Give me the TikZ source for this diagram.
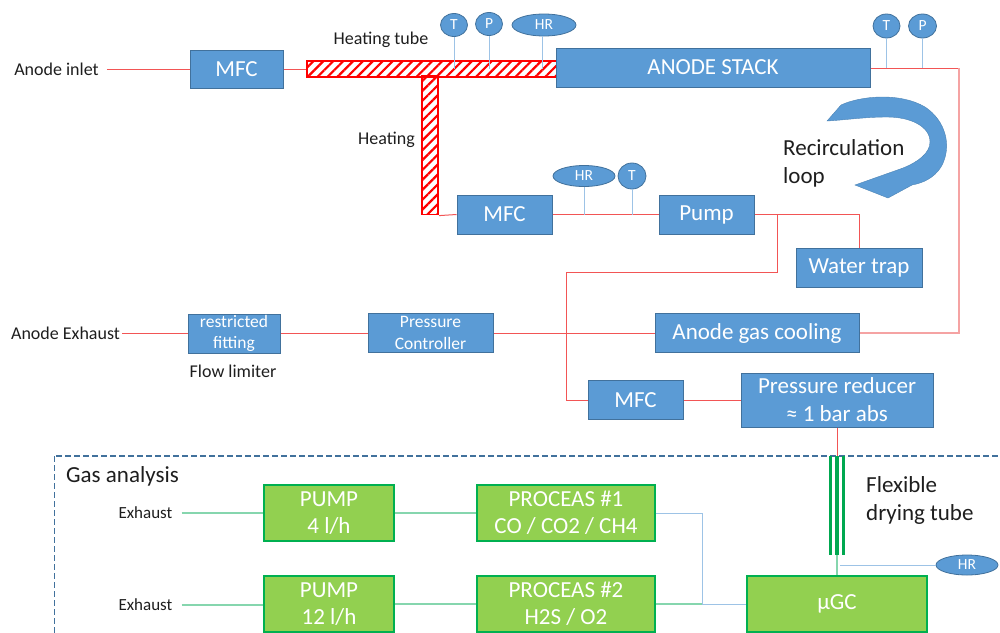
\documentclass[tikz,border=0pt]{standalone}
\usepackage{fontspec}
\setmainfont{Carlito}
\usetikzlibrary{shapes.geometric,patterns.meta}

\definecolor{boxblue}{HTML}{5B9BD5}
\definecolor{boxblueedge}{HTML}{41719C}
\definecolor{boxgreen}{HTML}{92D050}
\definecolor{boxgreenedge}{HTML}{00B050}
\definecolor{dryergreen}{HTML}{00A850}
\definecolor{pipered}{HTML}{F25555}
\definecolor{pipepink}{HTML}{F5A3A3}
\definecolor{sensorline}{HTML}{9DC3E6}
\definecolor{greenline}{HTML}{86D6AE}
\definecolor{labelgray}{HTML}{1E1E1E}

\newcommand\fsz[2]{\fontsize{#1}{#2}\selectfont}

\tikzset{
  unit/.style={draw=boxblueedge, fill=boxblue, line width=1pt, text=white,
    inner sep=0pt, align=center, font=\fsz{23}{28}},
  smallunit/.style={unit, font=\fsz{17.5}{21.5}},
  anaunit/.style={draw=boxgreenedge, fill=boxgreen, line width=1.3pt, text=white,
    inner sep=0pt, align=center, font=\fsz{23}{27}},
  sensor/.style={ellipse, draw=boxblueedge, fill=boxblue, line width=0.8pt,
    text=white, inner sep=0pt, font=\fsz{15.5}{18}},
  pipe/.style={draw=pipered, line width=1pt},
  pipelight/.style={draw=pipepink, line width=1.2pt},
  tap/.style={draw=sensorline, line width=1pt},
  gline/.style={draw=greenline, line width=1.3pt},
  lbl/.style={text=labelgray, inner sep=0pt, font=\fsz{18}{22}},
  biglbl/.style={text=labelgray, inner sep=0pt, font=\fsz{23}{28}},
  heated/.style={draw=red, line width=1.2pt, inner sep=0pt,
    pattern={Lines[angle=45,distance=7pt,line width=2.2pt]}, pattern color=red},
  frame/.style={draw=boxblueedge, line width=1.2pt, dash pattern=on 5.5pt off 3.5pt},
}

\begin{document}
\begin{tikzpicture}[x=1pt,y=-1pt]
\useasboundingbox (0,0) rectangle (1000,632);
\clip (0,0) rectangle (1000,632);

% ---------- gas analysis frame ----------
\draw[frame] (54.5,456) rectangle (1020,700);
\node[biglbl, anchor=base west] (gasLbl) at (66,482) {Gas analysis};

% ---------- heated lines ----------
\node[heated, minimum width=16pt, minimum height=139pt] (tubeV) at (430,145) {};
\node[heated, minimum width=250pt, minimum height=16pt] (tubeH) at (432,69) {};
\node[lbl] (heatTubeLbl) at (381,40) {Heating tube};
\node[lbl] (heatLbl) at (386.5,140) {Heating};

% ---------- main units ----------
\node[unit, minimum width=93pt, minimum height=38pt] (mfcA) at (236.5,69) {MFC};
\node[unit, minimum width=314pt, minimum height=39pt] (stack) at (713,67.5) {ANODE STACK};
\node[unit, minimum width=95pt, minimum height=39pt] (mfcB) at (504.5,214.5) {MFC};
\node[unit, minimum width=95pt, minimum height=39pt] (pump) at (706.5,214.5) {Pump};
\node[unit, minimum width=126pt, minimum height=39pt] (trap) at (859,267.5) {Water trap};
\node[smallunit, minimum width=92pt, minimum height=39pt] (restr) at (234,333.5) {restricted\\fitting};
\node[smallunit, minimum width=125pt, minimum height=39pt] (pctrl) at (430.5,333) {Pressure\\Controller};
\node[unit, minimum width=204pt, minimum height=39pt] (cool) at (757,333) {Anode gas cooling};
\node[unit, minimum width=95pt, minimum height=39pt] (mfcC) at (635.5,400) {MFC};
\node[unit, minimum width=192pt, minimum height=54pt] (reducer) at (837,400) {Pressure reducer\\≈ 1 bar abs};

% ---------- labels ----------
\node[lbl] (inletLbl) at (56.5,69) {Anode inlet};
\node[lbl] (exhLbl) at (65.5,333) {Anode Exhaust};
\node[lbl] (flowLbl) at (233,371) {Flow limiter};
\node[biglbl, anchor=base west] (recircA) at (783,155) {Recirculation};
\node[biglbl, anchor=base west] (recircB) at (783,183) {loop};
\node[biglbl, anchor=base west] (flexA) at (866,492) {Flexible};
\node[biglbl, anchor=base west] (flexB) at (866,520) {drying tube};

% ---------- sensors ----------
\node[sensor, minimum width=27pt, minimum height=23pt] (tA) at (454,25) {T};
\node[sensor, minimum width=27pt, minimum height=23pt] (pA) at (489,24) {P};
\node[sensor, minimum width=64pt, minimum height=22pt] (hrA) at (544,25) {HR};
\node[sensor, minimum width=27pt, minimum height=24pt] (tC) at (886.5,26) {T};
\node[sensor, minimum width=28pt, minimum height=24pt] (pC) at (922.5,26) {P};
\node[sensor, minimum width=62pt, minimum height=21pt] (hrB) at (584,176) {HR};
\node[sensor, minimum width=28pt, minimum height=26pt] (tB) at (632,176) {T};
\node[sensor, minimum width=62pt, minimum height=20pt] (hrC) at (967,565) {HR};

% ---------- coordinates for pipe corners ----------
\coordinate (loopNE) at (959,68);
\coordinate (brA) at (777,214.5);
\coordinate (brB) at (566,272);
\coordinate (dryTop) at (837,456);
\coordinate (dryBot) at (837,555);
\coordinate (hrTap) at (840,565);
\coordinate (joinTop) at (702,513);
\coordinate (joinBot) at (702,604);

% ---------- red gas lines ----------
\draw[pipe] ([xshift=8pt]inletLbl.east) -- (mfcA.west);
\draw[pipe] (mfcA.east) -- (tubeH.west);
\draw[pipe] (stack.east |- loopNE) -- (loopNE);
\draw[pipelight] (loopNE) |- (cool.east);
\draw[pipe] (cool.west) -- (pctrl.east);
\draw[pipe] (pctrl.west) -- (restr.east |- pctrl.west);
\draw[pipe] ([xshift=2pt]exhLbl.east) -- (restr.west |- exhLbl.east);
\draw[pipe] (tubeV.south east) -- (mfcB.west);
\draw[pipe] (mfcB.east) -- (pump.west);
\draw[pipe] (pump.east) -| (trap.north);
\draw[pipe] (brA) |- (brB) |- (mfcC.west);
\draw[pipe] (mfcC.east) -- (reducer.west |- mfcC.east);
\draw[pipe] (reducer.south) -- (dryTop);

% ---------- sensor taps ----------
\draw[tap] (tA.south) -- (tA.south |- tubeH.center);
\draw[tap] (pA.south) -- (pA.south |- tubeH.center);
\draw[tap] ([xshift=-2pt]hrA.south) -- ([xshift=-2pt]hrA.south |- tubeH.center);
\draw[tap] (tC.south) -- (tC.south |- loopNE);
\draw[tap] (pC.south) -- (pC.south |- loopNE);
\draw[tap] (hrB.south) -- (hrB.south |- mfcB.east);
\draw[tap] (tB.south) -- (tB.south |- mfcB.east);

% ---------- recirculation arrow ----------
\fill[boxblue, draw=boxblue!85!black, line width=0.4pt]
  (827,121) -- (841,105)
  .. controls (860,96) and (900,92) .. (925,107)
  .. controls (945,120) and (953,146) .. (941,167)
  .. controls (934,178) and (923,183) .. (912,185)
  -- (888,198) -- (855,185) -- (903,168)
  .. controls (918,162) and (930,153) .. (930,142)
  .. controls (930,126) and (910,117) .. (887,117)
  .. controls (865,117) and (845,120) .. cycle;

% ---------- gas analysis units ----------
\node[anaunit, minimum width=130pt, minimum height=56pt] (pumpA) at (329,513) {PUMP\\4 l/h};
\node[anaunit, minimum width=178pt, minimum height=56pt] (procA) at (566,513) {PROCEAS \#1\\CO / CO2 / CH4};
\node[anaunit, minimum width=130pt, minimum height=56pt] (pumpB) at (329,604) {PUMP\\12 l/h};
\node[anaunit, minimum width=178pt, minimum height=56pt] (procB) at (566,604) {PROCEAS \#2\\H2S / O2};
\node[anaunit, minimum width=180pt, minimum height=56pt] (gc) at (837,604) {µGC};
\node[lbl, font=\fsz{17}{20}] (exhA) at (145.5,513) {Exhaust};
\node[lbl, font=\fsz{17}{20}] (exhB) at (145.5,605) {Exhaust};

\draw[gline] ([xshift=9pt]exhA.east) -- (pumpA.west |- exhA.east);
\draw[gline] (pumpA.east) -- (procA.west);
\draw[gline] ([xshift=9pt]exhB.east) -- (pumpB.west |- exhB.east);
\draw[gline] (pumpB.east) -- (procB.west);
\draw[gline] (procB.east) -- (joinBot);
\draw[tap] (procA.east) -- (joinTop) -- (joinBot) -- (gc.west);

% ---------- flexible drying tube ----------
\draw[dryergreen, line width=3pt] ([xshift=-6.5pt]dryTop) -- ([xshift=-6.5pt]dryBot);
\draw[dryergreen, line width=4.5pt] (dryTop) -- (dryBot);
\draw[dryergreen, line width=3pt] ([xshift=6pt]dryTop) -- ([xshift=6pt]dryBot);
\draw[gline] (dryBot) -- (gc.north);
\draw[tap] (hrTap) -- (hrC.west);
\end{tikzpicture}
\end{document}
